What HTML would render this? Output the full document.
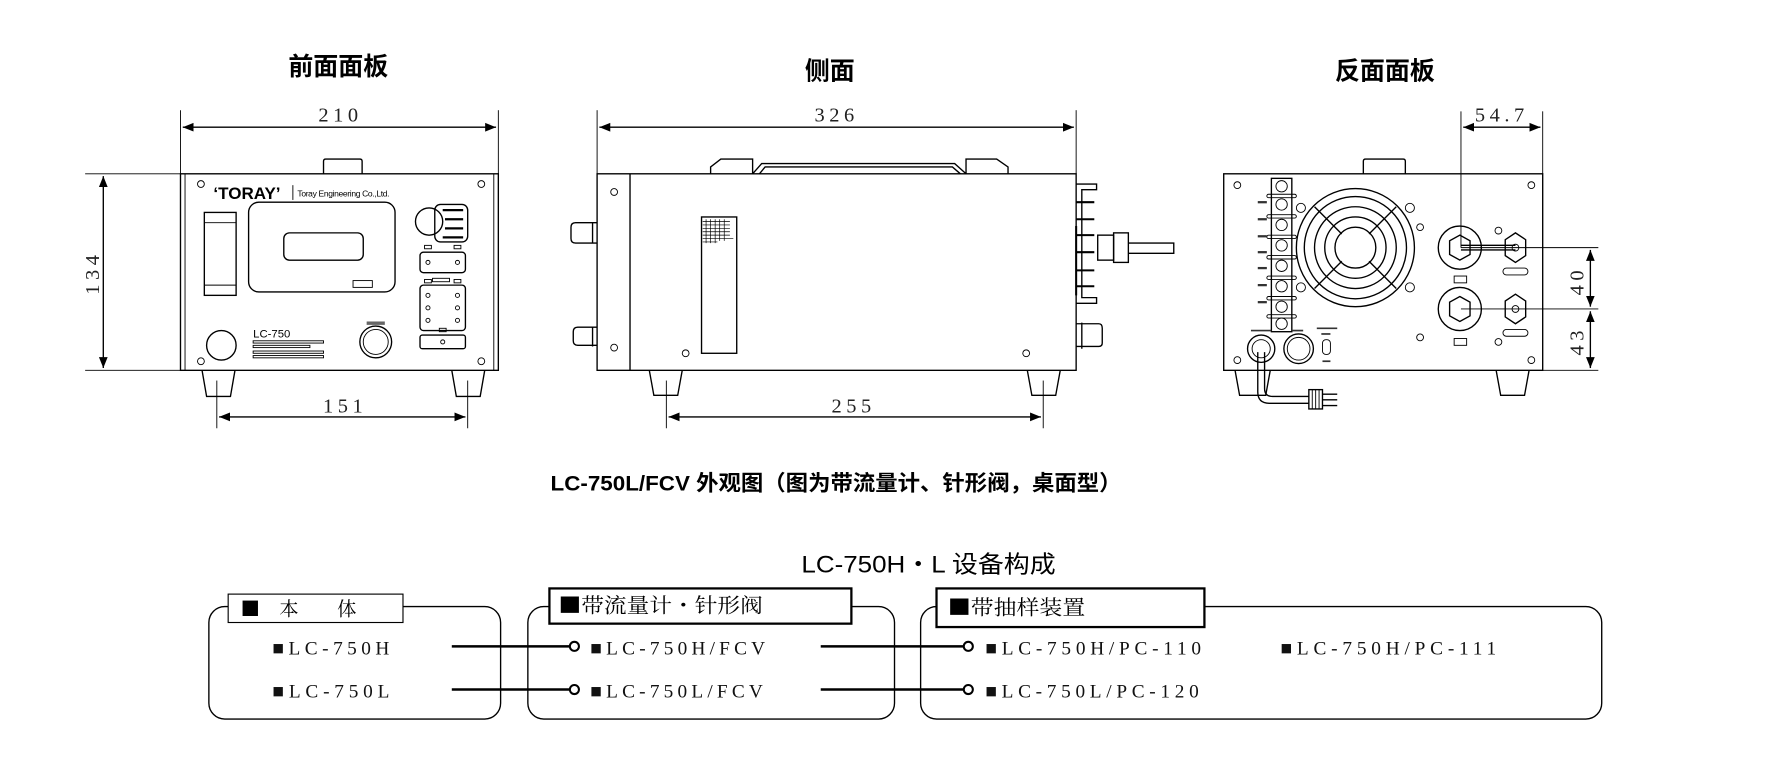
<!DOCTYPE html>
<html><head><meta charset="utf-8"><style>
html,body{margin:0;padding:0;background:#fff;}
svg{display:block}
.s{fill:none;stroke:#000;stroke-width:1.2}
.t{stroke:#000;stroke-width:0.8;fill:none}
.d{font-family:"Liberation Serif","Noto Serif CJK SC",serif;font-size:18px;letter-spacing:4px;fill:#222}
.m{font-family:"Liberation Serif","Noto Serif CJK SC",serif;font-size:17px;fill:#111}
.h{font-family:"Liberation Sans","Noto Sans CJK SC",sans-serif;font-weight:bold;font-size:22px}
</style></head><body>
<svg width="1772" height="777" viewBox="2 0 1561 684" preserveAspectRatio="none" xmlns="http://www.w3.org/2000/svg">
<defs>
<marker id="a" viewBox="0 0 10 10" refX="10" refY="5" markerWidth="8" markerHeight="8" orient="auto-start-reverse"><path d="M0,1 L10,5 L0,9z" fill="#000"/></marker>
</defs>
<text class="h" x="300" y="66" text-anchor="middle">前面面板</text>
<text class="h" x="733" y="70" text-anchor="middle">侧面</text>
<text class="h" x="1222" y="70" text-anchor="middle">反面面板</text>

<!-- FRONT -->
<g>
<line class="t" x1="161" y1="97" x2="161" y2="153"/><line class="t" x1="441" y1="97" x2="441" y2="153"/>
<line class="s" x1="163" y1="112" x2="439" y2="112" marker-start="url(#a)" marker-end="url(#a)"/>
<text class="d" x="302" y="107" text-anchor="middle">210</text>
<line class="t" x1="77" y1="153" x2="161" y2="153"/><line class="t" x1="77" y1="326" x2="161" y2="326"/>
<line class="s" x1="93" y1="155" x2="93" y2="324" marker-start="url(#a)" marker-end="url(#a)"/>
<text class="d" x="0" y="0" transform="translate(89,240) rotate(-90)" text-anchor="middle">134</text>
<path class="s" d="M287,153 V142 Q287,140 289,140 H319 Q321,140 321,142 V153"/>
<rect class="s" x="161" y="153" width="280" height="173"/>
<line class="t" x1="165" y1="153" x2="165" y2="326"/><line class="t" x1="437" y1="153" x2="437" y2="326"/>
<path class="s" d="M180,326 L184,349 H205 L209,326"/><path class="s" d="M400,326 L404,349 H425 L429,326"/>
<line class="t" x1="193" y1="335" x2="193" y2="377"/><line class="t" x1="414" y1="335" x2="414" y2="377"/>
<line class="s" x1="195" y1="367" x2="412" y2="367" marker-start="url(#a)" marker-end="url(#a)"/>
<text class="d" x="306" y="363" text-anchor="middle">151</text>
<g class="t"><circle cx="179" cy="162" r="3"/><circle cx="426" cy="162" r="3"/><circle cx="179" cy="318" r="3"/><circle cx="426" cy="318" r="3"/></g>
<text x="190" y="175" font-family="Liberation Sans,sans-serif" font-weight="bold" font-size="15">‘TORAY’</text>
<line class="t" x1="260" y1="163" x2="260" y2="176"/>
<text x="264" y="173" font-family="Liberation Sans,sans-serif" font-size="7.5" letter-spacing="-0.3">Toray Engineering Co.,Ltd.</text>
<rect class="s" x="182" y="187" width="28" height="73"/><line class="t" x1="182" y1="196" x2="210" y2="196"/><line class="t" x1="182" y1="251" x2="210" y2="251"/>
<rect class="s" x="221" y="178" width="129" height="79" rx="9"/>
<rect class="s" x="252" y="205" width="70" height="24" rx="5"/>
<rect class="t" x="313" y="247" width="17" height="6"/>
<rect class="s" x="385" y="180" width="29" height="33" rx="5"/><circle class="s" cx="380" cy="195" r="12" fill="#fff"/>
<g stroke="#000" stroke-width="2"><line x1="392" y1="185" x2="410" y2="185"/><line x1="394" y1="193" x2="410" y2="193"/><line x1="394" y1="201" x2="410" y2="201"/><line x1="392" y1="209" x2="410" y2="209"/></g>
<rect class="s" x="372" y="222" width="40" height="18" rx="3"/>
<rect class="s" x="372" y="251" width="40" height="40" rx="3"/>
<rect class="s" x="372" y="295" width="40" height="12" rx="2"/>
<g class="t"><circle cx="379" cy="231" r="1.8"/><circle cx="405" cy="231" r="1.8"/><circle cx="379" cy="260" r="1.8"/><circle cx="405" cy="260" r="1.8"/><circle cx="379" cy="271" r="1.8"/><circle cx="405" cy="271" r="1.8"/><circle cx="379" cy="282" r="1.8"/><circle cx="405" cy="282" r="1.8"/><circle cx="392" cy="301" r="1.8"/>
<rect x="376" y="216" width="6" height="3"/><rect x="402" y="216" width="6" height="3"/><rect x="383" y="245" width="15" height="3"/><rect x="376" y="246" width="6" height="3"/><rect x="402" y="246" width="6" height="3"/><rect x="389" y="289" width="6" height="3"/></g>
<circle class="s" cx="197" cy="304" r="13"/>
<text x="225" y="297" font-family="Liberation Sans,sans-serif" font-size="10">LC-750</text>
<g class="t"><rect x="225" y="300" width="62" height="2"/><rect x="225" y="304" width="50" height="2"/><rect x="225" y="309" width="62" height="2"/><rect x="225" y="313" width="62" height="2"/></g>
<circle class="s" cx="333" cy="301" r="14"/><circle class="t" cx="333" cy="301" r="11"/>
<rect x="325" y="283" width="16" height="3" fill="#666"/>
</g>

<!-- SIDE -->
<g>
<line class="t" x1="528" y1="97" x2="528" y2="153"/><line class="t" x1="950" y1="97" x2="950" y2="153"/>
<line class="s" x1="530" y1="112" x2="948" y2="112" marker-start="url(#a)" marker-end="url(#a)"/>
<text class="d" x="739" y="107" text-anchor="middle">326</text>
<path class="s" d="M628,153 V147 L637,140 H665 V153 M665,153 L673,144 H843 L853,153 M671,153 L676,147 H841 L848,153 M853,153 V140 H880 L890,147 V153"/>
<rect class="s" x="528" y="153" width="422" height="173"/>
<line class="s" x1="557" y1="153" x2="557" y2="326"/>
<path class="s" d="M574,326 L578,348 H599 L603,326"/><path class="s" d="M907,326 L911,348 H932 L936,326"/>
<rect class="s" x="620" y="191" width="31" height="120"/>
<g fill="none" stroke="#000" stroke-width="0.6">
<path d="M621,195 H645 M621,198 H645 M621,201 H645 M621,204 H645 M621,207 H645 M621,210 H648 M621,213 H634"/>
<path d="M624,193 V214 M628,193 V214 M632,193 V214 M636,193 V212 M640,193 V212"/>
</g>
<g class="t"><circle cx="543" cy="169" r="3"/><circle cx="543" cy="306" r="3"/><circle cx="606" cy="311" r="3"/><circle cx="906" cy="311" r="3"/></g>
<path class="s" d="M528,214 H509 Q505,214 505,210 V200 Q505,196 509,196 H528 M524,196 V214"/>
<path class="s" d="M528,304 H511 Q507,304 507,300 V292 Q507,288 511,288 H528 M524,288 V305"/>
<path class="s" d="M950,285 H970 Q973,285 973,289 V302 Q973,305 970,305 H950 M955,284 V307"/>
<path class="s" d="M950,162 H968 V167 H955 V262 H968 V267 H950"/>
<g stroke="#000" stroke-width="1.8"><line x1="950" y1="178" x2="966" y2="178"/><line x1="950" y1="193" x2="966" y2="193"/><line x1="950" y1="207" x2="966" y2="207"/><line x1="950" y1="222" x2="966" y2="222"/><line x1="950" y1="238" x2="966" y2="238"/><line x1="950" y1="252" x2="966" y2="252"/><line x1="950" y1="199" x2="950" y2="260"/></g>
<rect class="s" x="969" y="207" width="14" height="22"/><rect class="s" x="983" y="205" width="13" height="26"/>
<path class="s" d="M996,214 H1036 V223 H996"/>
<line class="t" x1="589" y1="335" x2="589" y2="377"/><line class="t" x1="921" y1="335" x2="921" y2="377"/>
<line class="s" x1="591" y1="367" x2="919" y2="367" marker-start="url(#a)" marker-end="url(#a)"/>
<text class="d" x="754" y="363" text-anchor="middle">255</text>
</g>

<!-- BACK -->
<g>
<line class="t" x1="1289" y1="98" x2="1289" y2="218"/><line class="t" x1="1361" y1="98" x2="1361" y2="153"/>
<line class="s" x1="1291" y1="112" x2="1359" y2="112" marker-start="url(#a)" marker-end="url(#a)"/>
<text class="d" x="1325" y="107" text-anchor="middle">54.7</text>
<path class="s" d="M1203,153 V142 Q1203,140 1205,140 H1238 Q1240,140 1240,142 V153"/>
<rect class="s" x="1080" y="153" width="281" height="173"/>
<path class="s" d="M1090,326 L1094,348 H1117 L1121,326"/><path class="s" d="M1320,326 L1324,348 H1345 L1349,326"/>
<line class="t" x1="1289" y1="218" x2="1410" y2="218"/><line class="t" x1="1289" y1="272" x2="1410" y2="272"/><line class="t" x1="1361" y1="326" x2="1410" y2="326"/>
<line class="s" x1="1403" y1="220" x2="1403" y2="270" marker-start="url(#a)" marker-end="url(#a)"/>
<line class="s" x1="1403" y1="274" x2="1403" y2="324" marker-start="url(#a)" marker-end="url(#a)"/>
<text class="d" x="0" y="0" transform="translate(1397,247) rotate(-90)" text-anchor="middle">40</text>
<text class="d" x="0" y="0" transform="translate(1397,300) rotate(-90)" text-anchor="middle">43</text>
<g class="t"><circle cx="1092" cy="163" r="3"/><circle cx="1351" cy="163" r="3"/><circle cx="1092" cy="317" r="3"/><circle cx="1351" cy="317" r="3"/><circle cx="1253" cy="200" r="3"/><circle cx="1322" cy="203" r="3"/><circle cx="1253" cy="297" r="3"/><circle cx="1322" cy="301" r="3"/>
<circle cx="1148" cy="183" r="4"/><circle cx="1244" cy="183" r="4"/><circle cx="1148" cy="253" r="4"/><circle cx="1244" cy="253" r="4"/></g>
<g class="s"><circle cx="1196" cy="218" r="52"/><circle cx="1196" cy="218" r="45"/><circle cx="1196" cy="218" r="36"/><circle cx="1196" cy="218" r="27"/><circle cx="1196" cy="218" r="18"/>
<path d="M1160,182 L1184,206 M1232,182 L1208,206 M1160,254 L1184,230 M1232,254 L1208,230"/></g>
<rect class="s" x="1122" y="157" width="18" height="135"/>
<g class="t">
<circle cx="1131" cy="164" r="5"/><circle cx="1131" cy="180" r="5"/><circle cx="1131" cy="198" r="5"/><circle cx="1131" cy="216" r="5"/><circle cx="1131" cy="234" r="5"/><circle cx="1131" cy="252" r="5"/><circle cx="1131" cy="270" r="5"/><circle cx="1131" cy="285" r="5"/>
<rect x="1118" y="171" width="26" height="3" rx="1.5"/><rect x="1118" y="189" width="26" height="3" rx="1.5"/><rect x="1118" y="207" width="26" height="3" rx="1.5"/><rect x="1118" y="225" width="26" height="3" rx="1.5"/><rect x="1118" y="243" width="26" height="3" rx="1.5"/><rect x="1118" y="261" width="26" height="3" rx="1.5"/><rect x="1118" y="277" width="26" height="3" rx="1.5"/>
</g>
<g stroke="#333" stroke-width="2"><line x1="1110" y1="178" x2="1118" y2="178"/><line x1="1110" y1="193" x2="1118" y2="193"/><line x1="1110" y1="208" x2="1118" y2="208"/><line x1="1110" y1="222" x2="1118" y2="222"/><line x1="1110" y1="236" x2="1118" y2="236"/><line x1="1110" y1="251" x2="1118" y2="251"/><line x1="1110" y1="266" x2="1118" y2="266"/></g>
<circle class="s" cx="1288" cy="218" r="19"/><circle class="s" cx="1288" cy="272" r="19"/>
<polygon class="s" points="1288,207 1297,212 1297,224 1288,229 1279,224 1279,212"/>
<polygon class="s" points="1288,261 1297,266 1297,278 1288,283 1279,278 1279,266"/>
<polygon class="s" points="1337,205 1346,211 1346,225 1337,231 1328,225 1328,211"/>
<polygon class="s" points="1337,259 1346,265 1346,279 1337,285 1328,279 1328,265"/>
<circle class="t" cx="1337" cy="218" r="3"/><circle class="t" cx="1337" cy="272" r="3"/>
<path class="s" d="M1289,216 H1337 M1289,220 H1337"/>
<rect class="t" x="1326" y="236" width="22" height="6" rx="3"/><rect class="t" x="1326" y="290" width="22" height="6" rx="3"/>
<rect class="t" x="1283" y="243" width="11" height="6"/><rect class="t" x="1283" y="298" width="11" height="6"/>
<circle class="s" cx="1113" cy="307" r="12"/><circle class="t" cx="1113" cy="307" r="8"/>
<circle class="s" cx="1146" cy="307" r="13"/><circle class="t" cx="1146" cy="307" r="10"/>
<rect class="t" x="1167" y="299" width="7" height="13" rx="3"/>
<g stroke="#333" stroke-width="1.5"><line x1="1104" y1="291" x2="1122" y2="291"/><line x1="1140" y1="291" x2="1150" y2="291"/><line x1="1162" y1="289" x2="1180" y2="289"/><line x1="1166" y1="294" x2="1174" y2="294"/><line x1="1167" y1="318" x2="1174" y2="318"/></g>
<path class="s" d="M1110,310 V345 Q1110,355 1120,355 H1155 M1116,310 V342 Q1116,349 1123,349 H1155"/>
<rect class="s" x="1155" y="343" width="12" height="17"/>
<g class="t"><line x1="1158" y1="343" x2="1158" y2="360"/><line x1="1161" y1="343" x2="1161" y2="360"/><line x1="1164" y1="343" x2="1164" y2="360"/></g>
<path class="s" d="M1167,347 H1180 M1167,352 H1180 M1167,357 H1180"/>
</g>

<text x="487" y="432" textLength="503" lengthAdjust="spacingAndGlyphs" font-family="Liberation Sans,'Noto Sans CJK SC',sans-serif" font-weight="bold" font-size="19">LC-750L/FCV 外观图（图为带流量计、针形阀，桌面型）</text>

<text x="708" y="504" textLength="224" lengthAdjust="spacingAndGlyphs" font-family="Liberation Sans,'Noto Sans CJK SC',sans-serif" font-size="21">LC-750H・L 设备构成</text>
<rect class="s" x="186" y="534" width="257" height="99" rx="14"/>
<rect class="s" x="467" y="534" width="323" height="99" rx="14"/>
<rect class="s" x="813" y="534" width="600" height="99" rx="14"/>
<rect x="203" y="523" width="154" height="25" fill="#fff" stroke="#000" stroke-width="1"/>
<rect x="486" y="518" width="266" height="31" fill="#fff" stroke="#000" stroke-width="2"/>
<rect x="827" y="518" width="236" height="34" fill="#fff" stroke="#000" stroke-width="2"/>
<text x="214" y="542" font-family="'Noto Serif CJK SC',serif" font-size="17">■　本　　体</text>
<text x="494" y="539" textLength="180" lengthAdjust="spacingAndGlyphs" font-family="'Noto Serif CJK SC',serif" font-size="18">■带流量计・针形阀</text>
<text x="837" y="541" textLength="121" lengthAdjust="spacingAndGlyphs" font-family="'Noto Serif CJK SC',serif" font-size="18">■带抽样装置</text>
<g class="m">
<text x="242" y="576" textLength="103" lengthAdjust="spacing">■LC-750H</text>
<text x="242" y="614" textLength="103" lengthAdjust="spacing">■LC-750L</text>
<text x="522" y="576" textLength="154" lengthAdjust="spacing">■LC-750H/FCV</text>
<text x="522" y="614" textLength="152" lengthAdjust="spacing">■LC-750L/FCV</text>
<text x="870" y="576" textLength="190" lengthAdjust="spacing">■LC-750H/PC-110</text>
<text x="870" y="614" textLength="188" lengthAdjust="spacing">■LC-750L/PC-120</text>
<text x="1130" y="576" textLength="190" lengthAdjust="spacing">■LC-750H/PC-111</text>
</g>
<g stroke="#000" stroke-width="2.2" fill="#fff">
<line x1="400" y1="569" x2="504" y2="569"/><line x1="400" y1="607" x2="504" y2="607"/>
<line x1="725" y1="569" x2="851" y2="569"/><line x1="725" y1="607" x2="851" y2="607"/>
<circle cx="508" cy="569" r="4" stroke-width="1.8"/><circle cx="508" cy="607" r="4" stroke-width="1.8"/>
<circle cx="855" cy="569" r="4" stroke-width="1.8"/><circle cx="855" cy="607" r="4" stroke-width="1.8"/>
</g>
</svg>
</body></html>
